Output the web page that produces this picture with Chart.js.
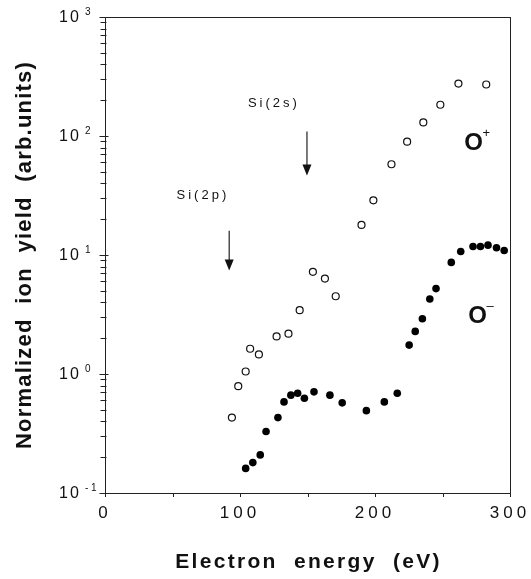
<!DOCTYPE html>
<html>
<head>
<meta charset="utf-8">
<script src="https://cdn.jsdelivr.net/npm/chart.js@4"></script>
<style>
    html, body { margin: 0; padding: 0; background: #fff; }
</style>
</head>
<body>
<canvas id="ionChart" width="531" height="579"></canvas>
<script>
// values (energy in eV, yield in arb. units)
const oPlusEnergy = [94, 98.7, 104.2, 107.5, 114, 127.1, 135.9, 144.2, 154, 162.9, 170.9, 190, 198.8, 212.2, 223.8, 235.8, 248.4, 261.8, 282.4];
const oPlusYield = [0.43, 0.79, 1.05, 1.63, 1.46, 2.07, 2.18, 3.44, 7.22, 6.34, 4.5, 17.9, 28.8, 57.9, 89.6, 130, 183, 276, 271];

const oMinusEnergy = [104.2, 109.5, 115, 119.3, 128.1, 132.6, 137.7, 142.7, 147.7, 154.8, 166.6, 175.7, 193.6, 206.9, 216.5, 225.3, 229.8, 235.1, 240.6, 245.2, 256.5, 263.5, 272.6, 278.1, 283.7, 290, 295.7];
const oMinusYield = [0.161, 0.18, 0.209, 0.329, 0.43, 0.583, 0.664, 0.69, 0.626, 0.708, 0.664, 0.572, 0.492, 0.583, 0.69, 1.75, 2.28, 2.91, 4.27, 5.22, 8.67, 10.7, 11.8, 11.8, 12.1, 11.5, 10.9];

// axis ticks
const xTickLabels = ['0', '100', '200', '300'];
const xTickMarks = [0, 50, 100, 150, 200, 250, 300];
const yDecades = [0.1, 1, 10, 100, 1000];
const yExponents = ['- 1', '0', '1', '2', '3'];
const yMinorSteps = [2, 3, 4, 5, 6, 7, 8, 9];

// Si core level arrows and their labels
const edgeLabels = ['Si(2p)', 'Si(2s)'];
const edgeLabelEnergy = [71.4, 124];
const edgeLabelYield = [31.8, 187];
const arrowEnergy = [92, 149.6];
const arrowFrom = [16, 109];
const arrowTo = [7.4, 46.6];

// ion labels
const ionNames = ['O', 'O'];
const ionCharges = ['+', '\u2013'];
const ionLabelEnergy = [273, 276];
const ionLabelYield = [87, 3.03];

const FONT = '"Liberation Sans", Arial, Helvetica, sans-serif';

function toPoints(xs, ys) {
    return xs.map((x, i) => ({ x: x, y: ys[i] }));
}

// Rahmen, Ticks, Beschriftungen, Pfeile
const figureExtras = {
    id: 'figureExtras',
    beforeDraw(chart) {
        chart.ctx.letterSpacing = '4px'; // wide tick lettering like the scan
    },
    afterDraw(chart) {
        const { ctx, chartArea: a, scales: { x, y } } = chart;
        ctx.save();
        ctx.fillStyle = '#111';
        ctx.strokeStyle = '#222';

        // frame
        ctx.lineWidth = 1;
        ctx.strokeRect(a.left + 0.5, a.top + 0.5, a.right - a.left, a.bottom - a.top);

        // tick marks
        const left = Math.round(a.left) + 0.5;
        ctx.beginPath();
        yDecades.forEach(d => {
            const py = Math.round(y.getPixelForValue(d)) + 0.5;
            ctx.moveTo(left - 6, py);
            ctx.lineTo(left + 3, py);
            if (d < 1000) {
                yMinorSteps.forEach(m => {
                    const pm = Math.round(y.getPixelForValue(d * m)) + 0.5;
                    ctx.moveTo(left - 5, pm);
                    ctx.lineTo(left + 1, pm);
                });
            }
        });
        xTickMarks.forEach(v => {
            const px = Math.round(x.getPixelForValue(v)) + 0.5;
            ctx.moveTo(px, a.bottom);
            ctx.lineTo(px, a.bottom + 4);
        });
        ctx.stroke();

        // y tick labels 10^n
        yDecades.forEach((d, i) => {
            const py = y.getPixelForValue(d);
            ctx.font = '16px ' + FONT;
            ctx.letterSpacing = '2px';
            ctx.textAlign = 'left';
            ctx.textBaseline = 'middle';
            ctx.fillText('10', 59, py + 1);
            ctx.font = '10px ' + FONT;
            ctx.letterSpacing = '0px';
            ctx.fillText(yExponents[i], 85, py - 5);
        });

        // arrows
        ctx.lineWidth = 1.2;
        arrowEnergy.forEach((e, i) => {
            const px = x.getPixelForValue(e);
            const y0 = y.getPixelForValue(arrowFrom[i]);
            const y1 = y.getPixelForValue(arrowTo[i]);
            ctx.beginPath();
            ctx.moveTo(px, y0);
            ctx.lineTo(px, y1 - 8);
            ctx.stroke();
            ctx.beginPath();
            ctx.moveTo(px - 4.5, y1 - 11);
            ctx.lineTo(px + 4.5, y1 - 11);
            ctx.lineTo(px, y1);
            ctx.closePath();
            ctx.fill();
        });

        // Si(2p), Si(2s)
        ctx.font = '13px ' + FONT;
        ctx.letterSpacing = '3px';
        ctx.textAlign = 'center';
        ctx.textBaseline = 'middle';
        edgeLabels.forEach((t, i) => {
            ctx.fillText(t, x.getPixelForValue(edgeLabelEnergy[i]) + 1.5, y.getPixelForValue(edgeLabelYield[i]));
        });

        // O+ / O-
        ctx.letterSpacing = '0px';
        ionNames.forEach((t, i) => {
            const px = x.getPixelForValue(ionLabelEnergy[i]);
            const py = y.getPixelForValue(ionLabelYield[i]);
            ctx.font = 'bold 24px ' + FONT;
            ctx.textAlign = 'center';
            ctx.fillText(t, px, py);
            ctx.font = '13px ' + FONT;
            ctx.textAlign = 'left';
            ctx.fillText(ionCharges[i], px + 9, py - 10);
        });

        // axis titles
        ctx.font = 'bold 21px ' + FONT;
        ctx.letterSpacing = '2.3px';
        ctx.textAlign = 'center';
        ctx.textBaseline = 'alphabetic';
        ctx.fillText('Electron  energy  (eV)', (a.left + a.right) / 2 + 1, 568);

        ctx.translate(31, (a.top + a.bottom) / 2);
        ctx.rotate(-Math.PI / 2);
        ctx.font = 'bold 22px ' + FONT;
        ctx.letterSpacing = '1.2px';
        ctx.fillText('Normalized  ion  yield  (arb.units)', 0, 0);
        ctx.restore();
    }
};

const ctx = document.getElementById('ionChart');
new Chart(ctx, {
    type: 'scatter',
    data: {
        datasets: [
            {
                label: 'O+',
                data: toPoints(oPlusEnergy, oPlusYield),
                pointStyle: 'circle',
                pointRadius: 3.5,
                pointBorderWidth: 1.2,
                borderColor: '#111',
                backgroundColor: '#fff'
            },
            {
                label: 'O-',
                data: toPoints(oMinusEnergy, oMinusYield),
                pointStyle: 'circle',
                pointRadius: 3.8,
                pointBorderWidth: 0,
                borderColor: '#000',
                backgroundColor: '#000'
            }
        ]
    },
    options: {
        responsive: false,
        animation: false,
        devicePixelRatio: 1,
        layout: { padding: { left: 0, right: 21, top: 17, bottom: 0 } },
        plugins: {
            legend: { display: false },
            tooltip: { enabled: false }
        },
        scales: {
            x: {
                type: 'linear',
                min: 0,
                max: 300,
                afterFit: s => { s.height = 86; },
                border: { display: true, color: '#333', width: 1 },
                grid: { display: false, tickLength: 4 },
                ticks: {
                    stepSize: 100,
                    padding: 6,
                    maxRotation: 0,
                    autoSkip: false,
                    color: '#111',
                    font: { family: FONT, size: 17 },
                    callback: v => xTickLabels.includes(String(v)) ? String(v) : ''
                }
            },
            y: {
                type: 'logarithmic',
                min: 0.1,
                max: 1000,
                afterFit: s => { s.width = 105; },
                border: { display: true, color: '#333', width: 1 },
                grid: { display: false },
                ticks: { display: false }
            }
        }
    },
    plugins: [figureExtras]
});
</script>
</body>
</html>
